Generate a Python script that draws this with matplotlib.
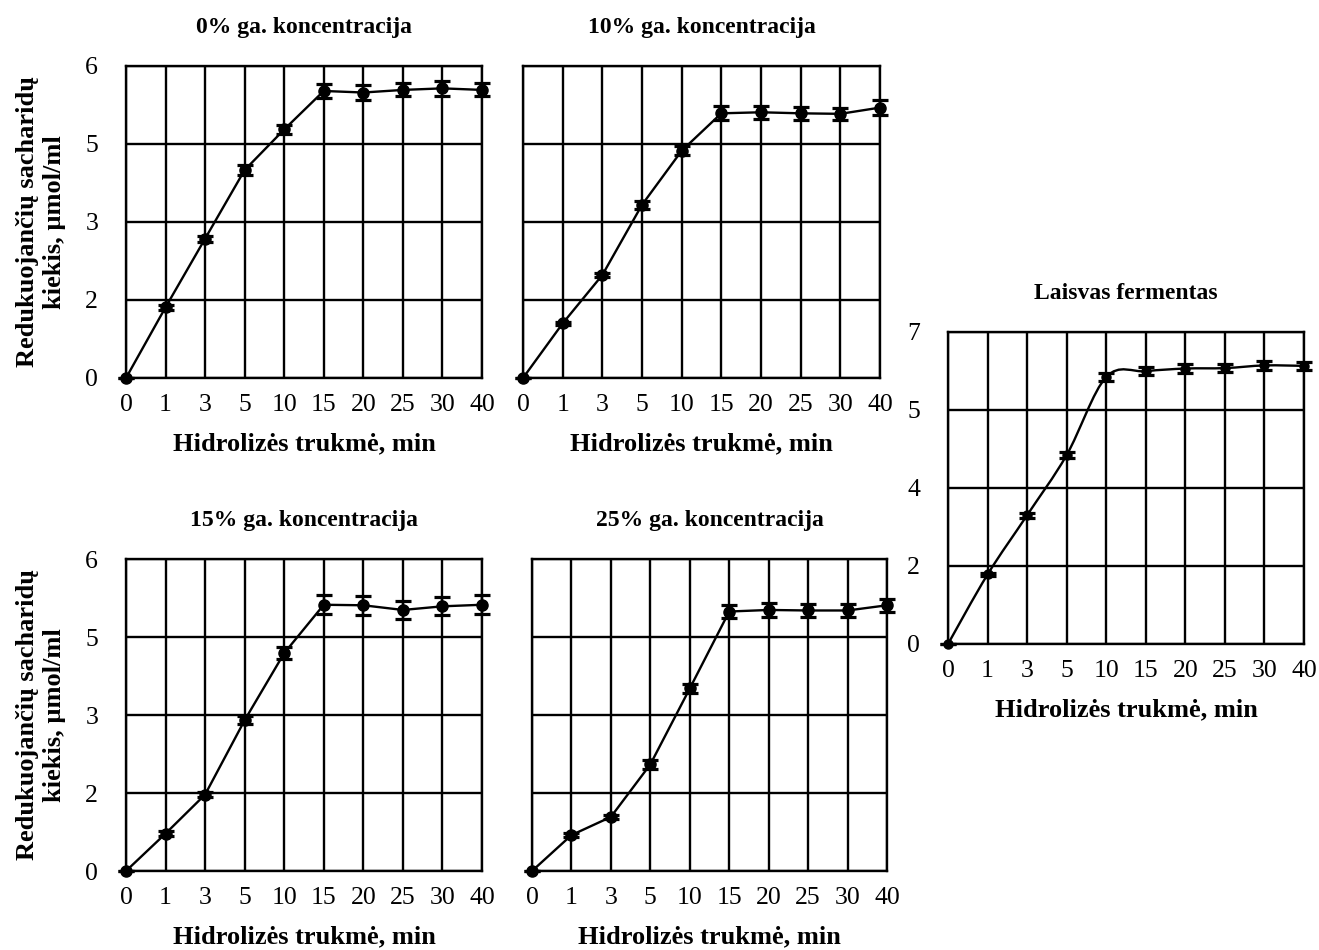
import numpy as np
import matplotlib
matplotlib.use("Agg")
import matplotlib.pyplot as plt
from matplotlib.path import Path
from matplotlib.patches import PathPatch

plt.rcParams['font.family'] = ['Liberation Serif', 'DejaVu Serif']

# ---------------- data ----------------
time_labels = ["0", "1", "3", "5", "10", "15", "20", "25", "30", "40"]

conc0_values = [0, 1.36, 2.68, 4.00, 4.78, 5.52, 5.49, 5.54, 5.57, 5.54]
conc0_errors = [0, 0.05, 0.06, 0.087, 0.09, 0.14, 0.14, 0.125, 0.14, 0.125]

conc10_values = [0, 1.05, 1.98, 3.33, 4.37, 5.09, 5.11, 5.09, 5.08, 5.20]
conc10_errors = [0, 0.03, 0.04, 0.08, 0.09, 0.135, 0.13, 0.13, 0.12, 0.15]

conc15_values = [0, 0.72, 1.47, 2.90, 4.19, 5.12, 5.11, 5.02, 5.09, 5.12]
conc15_errors = [0, 0.04, 0.04, 0.08, 0.12, 0.18, 0.18, 0.18, 0.17, 0.18]

conc25_values = [0, 0.69, 1.04, 2.05, 3.51, 4.99, 5.02, 5.01, 5.01, 5.11]
conc25_errors = [0, 0.04, 0.04, 0.08, 0.09, 0.13, 0.13, 0.13, 0.13, 0.13]

free_values = [0, 1.56, 2.89, 4.24, 5.99, 6.12, 6.18, 6.19, 6.25, 6.24]
free_errors = [0, 0.04, 0.06, 0.07, 0.08, 0.085, 0.10, 0.09, 0.10, 0.09]

conc_ymax = 6
conc_yticklabels = ["0", "2", "3", "5", "6"]
free_ymax = 7
free_yticklabels = ["0", "2", "4", "5", "7"]

titles = ["0% ga. koncentracija", "10% ga. koncentracija",
          "15% ga. koncentracija", "25% ga. koncentracija",
          "Laisvas fermentas"]
xlabel = "Hidrolizės trukmė, min"
ylabel = "Redukuojančių sacharidų\nkiekis, µmol/ml"

# ---------------- figure ----------------
W, H = 1319, 950
fig = plt.figure(figsize=(W / 100, H / 100), dpi=100)


def px_axes(left, top, right, bottom):
    return fig.add_axes([left / W, 1 - bottom / H, (right - left) / W, (bottom - top) / H])


LW = 1.7
TICK_FS = 18.5
LABEL_FS = 19
YLABEL_FS = 19
TITLE_FS = 17


def smooth_path(x, y):
    x = np.asarray(x, float)
    y = np.asarray(y, float)
    n = len(x)
    verts = [(x[0], y[0])]
    codes = [Path.MOVETO]
    for i in range(n - 1):
        x0, y0 = (x[i - 1], y[i - 1]) if i > 0 else (x[i], y[i])
        x1, y1 = x[i], y[i]
        x2, y2 = x[i + 1], y[i + 1]
        x3, y3 = (x[i + 2], y[i + 2]) if i + 2 < n else (x[i + 1], y[i + 1])
        c1 = (x1 + (x2 - x0) / 6, y1 + (y2 - y0) / 6)
        c2 = (x2 - (x3 - x1) / 6, y2 - (y3 - y1) / 6)
        verts += [c1, c2, (x2, y2)]
        codes += [Path.CURVE4] * 3
    return Path(verts, codes)


def draw_panel(ax, values, errors, ymax, yticklabels, title, show_y, smooth=False):
    xs = np.arange(len(time_labels))
    ax.set_xlim(0, len(time_labels) - 1)
    ax.set_ylim(0, ymax)
    ax.set_xticks(xs)
    ax.set_xticklabels(time_labels)
    yt = np.linspace(0, ymax, len(yticklabels))
    ax.set_yticks(yt)
    if show_y:
        ax.set_yticklabels(yticklabels)
    else:
        ax.set_yticklabels([])
    ax.tick_params(axis='both', length=0, labelsize=TICK_FS)
    ax.tick_params(axis='y', pad=20)
    ax.tick_params(axis='x', pad=11.5)
    ax.grid(True, color='black', linewidth=LW)
    ax.set_axisbelow(True)
    for s in ax.spines.values():
        s.set_linewidth(LW)
        s.set_color('black')
    if smooth:
        ax.add_patch(PathPatch(smooth_path(xs, values), facecolor='none',
                               edgecolor='black', linewidth=1.7, zorder=3))
        ax.errorbar(xs, values, yerr=errors, fmt='o', color='black', ms=6.5,
                    elinewidth=1.7, capsize=6, capthick=2.3, zorder=4, clip_on=False)
    else:
        ax.errorbar(xs, values, yerr=errors, fmt='-o', color='black', ms=8,
                    linewidth=1.7, elinewidth=1.7, capsize=6, capthick=2.3,
                    zorder=4, clip_on=False)
    ax.set_title(title, fontsize=TITLE_FS, fontweight='bold', pad=24)
    ax.set_xlabel(xlabel, fontsize=LABEL_FS, fontweight='bold', labelpad=12)


ax1 = px_axes(126, 66, 482, 378)
ax2 = px_axes(523, 66, 880, 378)
ax4 = px_axes(126, 559, 482, 871)
ax5 = px_axes(532, 559, 887, 871)
ax3 = px_axes(948, 332, 1304, 644)

draw_panel(ax1, conc0_values, conc0_errors, conc_ymax, conc_yticklabels, titles[0], True)
draw_panel(ax2, conc10_values, conc10_errors, conc_ymax, conc_yticklabels, titles[1], False)
draw_panel(ax4, conc15_values, conc15_errors, conc_ymax, conc_yticklabels, titles[2], True)
draw_panel(ax5, conc25_values, conc25_errors, conc_ymax, conc_yticklabels, titles[3], False)
draw_panel(ax3, free_values, free_errors, free_ymax, free_yticklabels, titles[4], True, smooth=True)

for ax in (ax1, ax4):
    pos = ax.get_position()
    fig.text(41 / W, pos.y0 + pos.height / 2, ylabel, rotation=90,
             ha='center', va='center', multialignment='center',
             fontsize=YLABEL_FS, fontweight='bold', linespacing=1.22)

fig.savefig("out.png", dpi=100)
